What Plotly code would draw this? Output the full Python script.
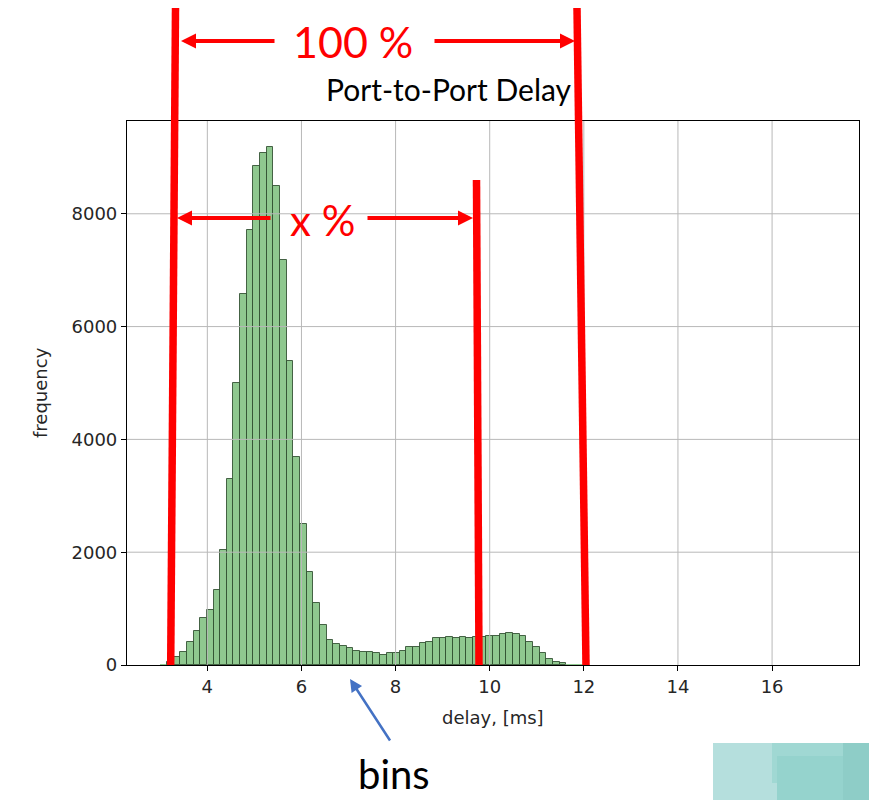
import plotly.graph_objects as go

# ---------------- data ----------------
bin_start = 3.0
bin_width = 0.1414
counts = [3, 60, 140, 235, 413, 607, 832, 973, 1327, 2035,
          3292, 5000, 6579, 7717, 8850, 9074, 9186, 8484, 7186, 5398,
          3680, 2508, 1652, 1091, 708, 443, 370, 340, 310, 248,
          230, 224, 207, 177, 218, 218, 248, 313, 313, 395,
          401, 472, 472, 490, 472, 501, 484, 501, 500, 513,
          513, 543, 572, 549, 513, 413, 313, 218, 106, 59,
          30, 15, 6, 2, 0, 0, 0, 0, 0, 0,
          0, 0, 0, 0, 0, 0, 0, 0, 0, 0,
          0, 0, 0, 0, 0, 0, 0, 0, 0, 0,
          0, 0, 0, 0, 0, 0, 0, 0, 0, 0]
x_ticks = [4, 6, 8, 10, 12, 14, 16]
y_ticks = [0, 2000, 4000, 6000, 8000]
x_range = [2.293, 17.847]
y_range = [0, 9645]

centers = [bin_start + (i + 0.5) * bin_width for i in range(len(counts))]
edge_widths = [1 if c >= 20 else 0 for c in counts]

# ---------------- layout helpers (pixel -> paper) ----------------
W, H = 869, 800
L, R, T, B = 127, 859, 121, 665


def px(xp):
    return (xp - L) / (R - L)


def py(yp):
    return (B - yp) / (B - T)


fig = go.Figure()
fig.add_trace(go.Bar(
    x=centers, y=counts, width=bin_width,
    marker=dict(color="rgb(143,200,143)",
                line=dict(color="rgba(45,75,45,0.85)", width=edge_widths)),
    hoverinfo="x+y", showlegend=False,
))

tick_font = dict(family="DejaVu Sans", size=18, color="#262626")
fig.update_layout(
    width=W, height=H,
    margin=dict(l=L, r=W - R, t=T, b=H - B, pad=0),
    paper_bgcolor="white", plot_bgcolor="white",
    bargap=0,
    xaxis=dict(range=x_range, tickmode="array", tickvals=x_ticks,
               ticks="outside", ticklen=5, tickwidth=1, tickcolor="black",
               showline=True, mirror=True, linecolor="black", linewidth=1.2,
               showgrid=False, zeroline=False, tickfont=tick_font),
    yaxis=dict(range=y_range, tickmode="array", tickvals=y_ticks,
               ticks="outside", ticklen=5, tickwidth=1, tickcolor="black",
               showline=True, mirror=True, linecolor="black", linewidth=1.2,
               showgrid=False, zeroline=False, tickfont=tick_font),
)

shapes = []
# grid lines drawn above the bars (like matplotlib)
for t in x_ticks:
    shapes.append(dict(type="line", xref="x", yref="paper", x0=t, x1=t, y0=0, y1=1,
                       line=dict(color="#b8b8b8", width=1), layer="above"))
for t in y_ticks[1:]:
    shapes.append(dict(type="line", xref="paper", yref="y", x0=0, x1=1, y0=t, y1=t,
                       line=dict(color="#b8b8b8", width=1), layer="above"))

RED = "#FF0000"
# big red boundary lines
for (x0, y0, x1, y1) in [(175.5, 8, 170.7, 665), (577, 8, 586, 665), (476.5, 180, 479, 665)]:
    shapes.append(dict(type="line", xref="paper", yref="paper",
                       x0=px(x0), y0=py(y0), x1=px(x1), y1=py(y1),
                       line=dict(color=RED, width=7.5), layer="above"))

# decorative teal blocks (bottom right)
for (x0, y0, x1, y1, c) in [(713, 743, 869, 800, "#B5DFDD"),
                            (772, 743, 869, 783, "#A0D8D3"),
                            (777, 756, 869, 800, "#95D3CD"),
                            (843, 743, 869, 800, "#8ECDC7")]:
    shapes.append(dict(type="rect", xref="paper", yref="paper",
                       x0=px(x0), y0=py(y0), x1=px(x1), y1=py(y1),
                       line=dict(width=0), fillcolor=c, layer="above"))
fig.update_layout(shapes=shapes)

ann = []


def arrow(tip, tail, color, width, size):
    ann.append(dict(xref="paper", yref="paper", x=px(tip[0]), y=py(tip[1]),
                    ax=tail[0] - tip[0], ay=tail[1] - tip[1], axref="pixel", ayref="pixel",
                    text="", showarrow=True, arrowhead=2, arrowwidth=width,
                    arrowsize=size, arrowcolor=color, standoff=0, startstandoff=0))


arrow((181, 41), (276, 41), RED, 4, 0.75)
arrow((575, 41), (433, 41), RED, 4, 0.75)
arrow((177, 218), (272, 218), RED, 4, 0.75)
arrow((473, 218), (366, 218), RED, 4, 0.75)
arrow((350, 679), (391, 742), "#4472C4", 2.5, 1.0)


def text(s, xp, yp, size, color, xanchor="center", angle=0, family="Lato"):
    ann.append(dict(xref="paper", yref="paper", x=px(xp), y=py(yp), text=s,
                    showarrow=False, xanchor=xanchor, yanchor="middle", textangle=angle,
                    font=dict(family=family, size=size, color=color)))


text("100 %", 353, 41, 43, RED)
text("x %", 322, 220, 42, RED)
text("Port-to-Port Delay", 324, 89, 30, "black", xanchor="left")
text("bins", 394, 774, 40, "black")
text("delay, [ms]", 493, 717, 18, "#262626", family="DejaVu Sans")
text("frequency", 40, 393, 18, "#262626", angle=-90, family="DejaVu Sans")
fig.update_layout(annotations=ann)

fig.write_html("out.html")
